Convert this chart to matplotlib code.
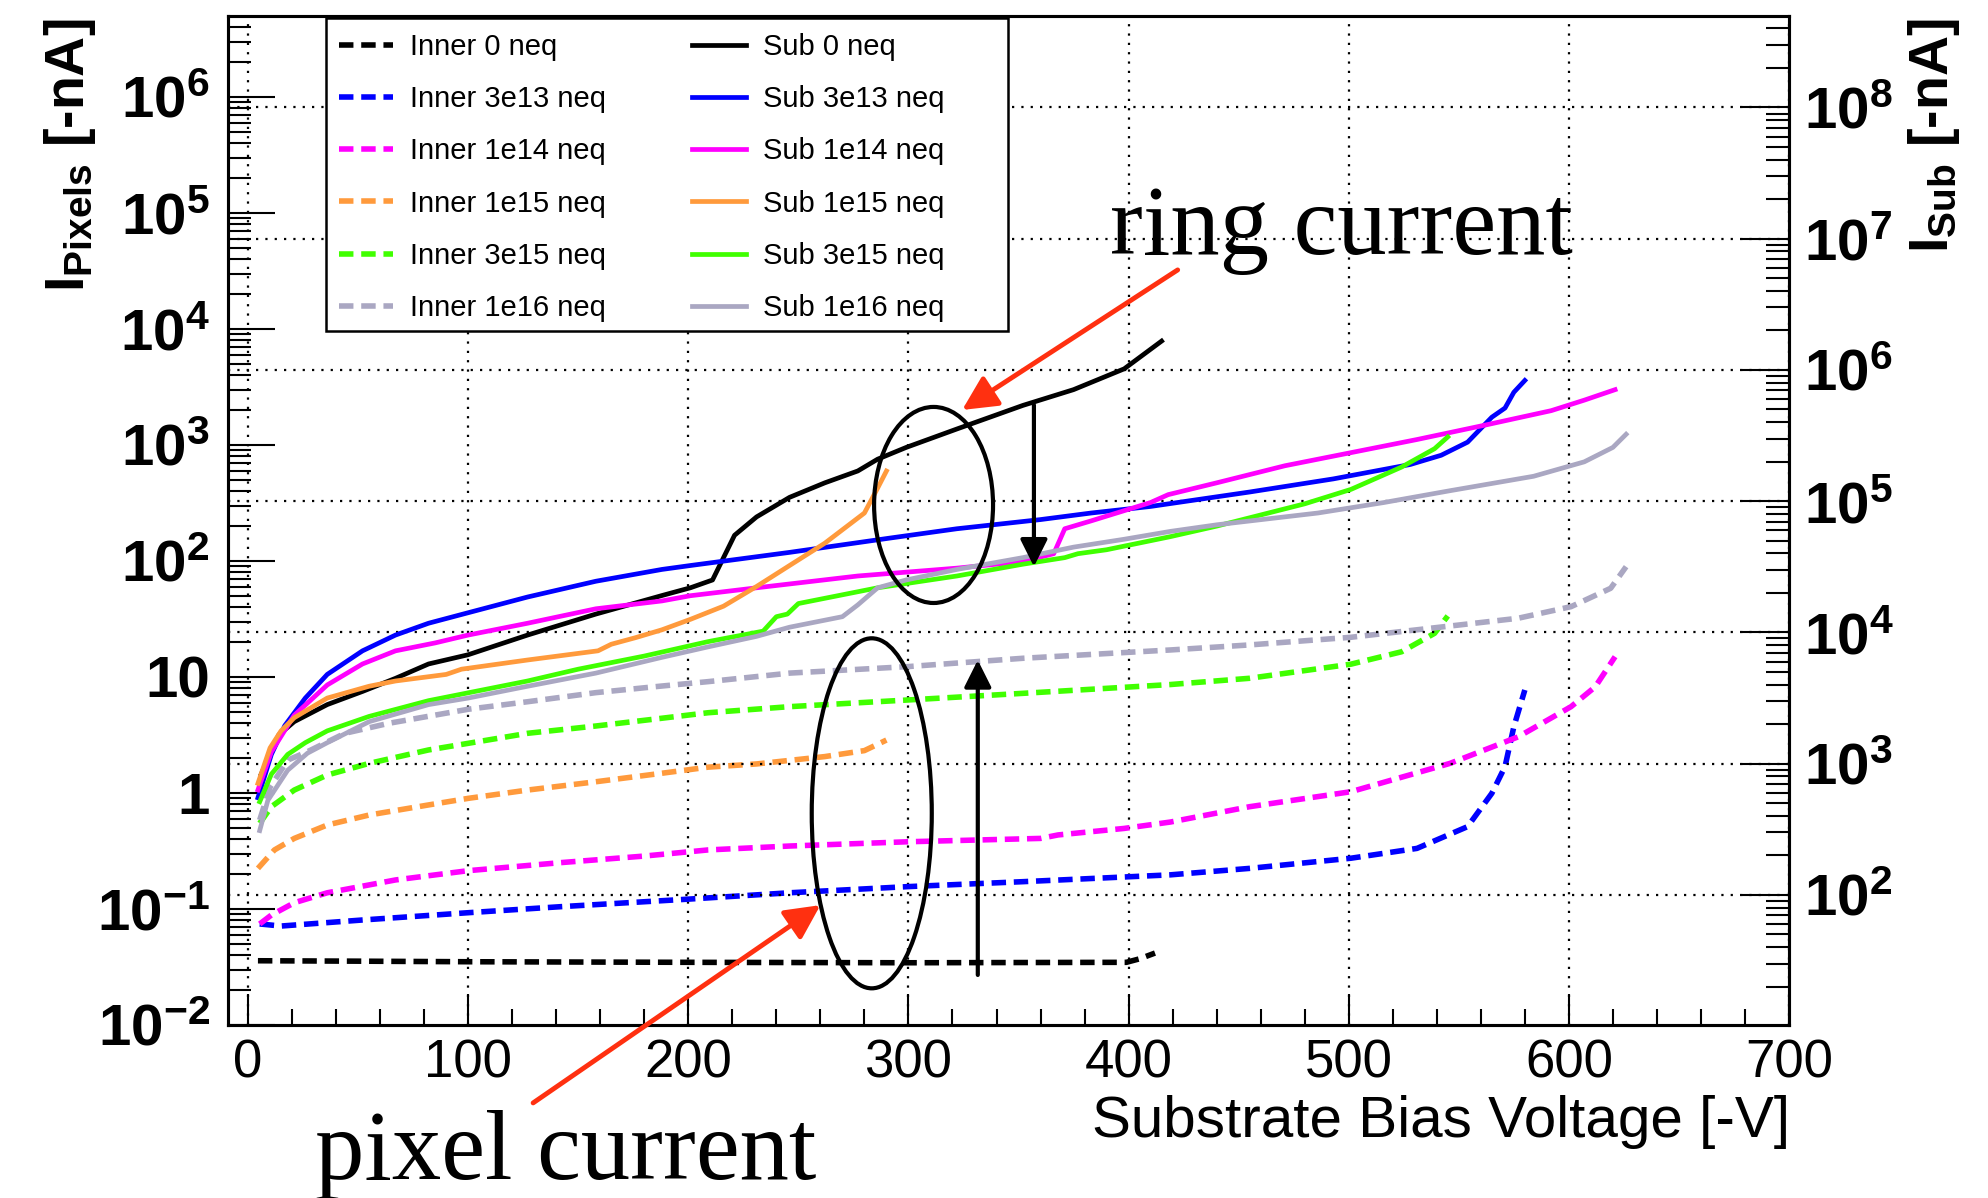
import numpy as np
import matplotlib
matplotlib.use('Agg')
from matplotlib import pyplot as plt
from matplotlib.ticker import LogLocator, MultipleLocator, NullFormatter
from matplotlib.patches import Ellipse, Rectangle

plt.rcParams['font.family'] = ['Liberation Sans', 'DejaVu Sans']
plt.rcParams['mathtext.fontset'] = 'custom'
plt.rcParams['mathtext.rm'] = 'Liberation Sans'
plt.rcParams['mathtext.bf'] = 'Liberation Sans:bold'
plt.rcParams['mathtext.it'] = 'Liberation Sans:italic'

# ---- data: pixel (inner) currents, left axis [-nA] ----
inner_labels = ['Inner 0 neq', 'Inner 3e13 neq', 'Inner 1e14 neq',
                'Inner 1e15 neq', 'Inner 3e15 neq', 'Inner 1e16 neq']

inner_0_v = [4.5, 50, 100, 200, 300, 399, 405, 412]
inner_0_i = [0.0358, 0.0355, 0.0351, 0.0347, 0.0344, 0.0347, 0.0372, 0.0417]

inner_3e13_v = [5.3, 15, 52, 100, 142, 200, 246, 300, 352, 419, 455, 501, 531, 554, 565, 571, 575, 580]
inner_3e13_i = [0.0743, 0.0713, 0.0804, 0.0929, 0.1047, 0.1216, 0.138, 0.156, 0.172, 0.197,
                0.224, 0.274, 0.333, 0.513, 0.993, 1.69, 3.72, 7.73]

inner_1e14_v = [5.3, 10.6, 21, 36, 67, 100, 142, 180, 209, 246, 300, 360, 368, 398, 419,
                455, 501, 546, 577, 601, 612, 621]
inner_1e14_i = [0.0743, 0.0887, 0.1132, 0.138, 0.178, 0.214, 0.251, 0.286, 0.323, 0.349,
                0.380, 0.406, 0.435, 0.495, 0.562, 0.762, 1.026, 1.80, 3.05, 5.55, 8.24, 14.96]

inner_1e15_v = [4.5, 12, 21, 36, 55, 82, 100, 127, 158, 188, 209, 231, 262, 280, 290]
inner_1e15_i = [0.224, 0.323, 0.406, 0.530, 0.646, 0.789, 0.899, 1.06, 1.25, 1.48, 1.67,
                1.78, 2.06, 2.32, 2.86]

inner_3e15_v = [5.3, 10.6, 21, 36, 55, 82, 100, 127, 158, 188, 209, 246, 300, 352, 419,
                455, 501, 524, 539, 545]
inner_3e15_i = [0.548, 0.762, 1.06, 1.43, 1.80, 2.35, 2.68, 3.27, 3.78, 4.41, 4.92, 5.55,
                6.34, 7.23, 8.61, 9.75, 12.9, 16.5, 23.8, 33.6]

inner_1e16_v = [5.3, 10, 18, 27, 44, 64, 100, 127, 158, 188, 209, 246, 300, 352, 419, 455,
                501, 546, 577, 601, 619, 626]
inner_1e16_i = [0.585, 1.12, 1.92, 2.27, 3.27, 3.99, 5.27, 6.12, 7.33, 8.36, 9.12, 10.8,
                12.3, 14.5, 17.1, 18.9, 22.0, 27.5, 32.1, 40.4, 58.2, 89.3]

# ---- data: substrate currents, right axis [-nA] ----
sub_labels = ['Sub 0 neq', 'Sub 3e13 neq', 'Sub 1e14 neq',
              'Sub 1e15 neq', 'Sub 3e15 neq', 'Sub 1e16 neq']

sub_0_v = [6, 14, 21, 36, 52, 67, 82, 100, 127, 158, 188, 201, 211, 221, 231, 246, 262,
           277, 286, 299, 322, 352, 375, 398, 415]
sub_0_i = [832, 1660, 2090, 2820, 3550, 4470, 5750, 6760, 9550, 13800, 19100, 21900, 25100,
           55000, 75900, 107000, 138000, 170000, 209000, 257000, 355000, 537000, 708000,
           1.02e6, 1.66e6]

sub_3e13_v = [4.5, 10.6, 16.7, 26, 36, 52, 67, 82, 100, 127, 158, 188, 201, 246, 292, 322,
              360, 383, 410, 455, 493, 528, 542, 554, 565, 571, 575, 580]
sub_3e13_i = [550, 1175, 1950, 3160, 4790, 7240, 9550, 11750, 14130, 18620, 24550, 30200,
              32360, 40740, 52480, 61660, 72440, 81280, 91200, 117500, 147900, 190500,
              223900, 281800, 436500, 512900, 676100, 831800]

sub_1e14_v = [4.5, 10.6, 21, 36, 52, 67, 85, 100, 127, 158, 188, 201, 231, 277, 322, 352,
              366, 371, 383, 410, 418, 440, 471, 501, 531, 562, 592, 607, 621]
sub_1e14_i = [631, 1230, 2340, 3980, 5750, 7240, 8320, 9550, 11750, 15140, 17380, 19050,
              21880, 26920, 30900, 34670, 39810, 61660, 70800, 97720, 112200, 138000,
              186200, 234400, 295100, 380200, 489800, 588800, 707900]

sub_1e15_v = [4.5, 10, 15, 21, 36, 55, 67, 90, 97, 127, 159, 165, 176, 188, 201, 216, 231,
              246, 262, 280, 286, 290]
sub_1e15_i = [708, 1318, 1778, 2239, 3162, 3890, 4266, 4786, 5248, 6166, 7244, 8128, 9120,
              10470, 12590, 15850, 22390, 32360, 47860, 81280, 125900, 169800]

sub_3e15_v = [5.3, 10.6, 18, 26, 36, 55, 82, 100, 127, 150, 180, 209, 234, 240, 245, 250,
              271, 286, 322, 352, 371, 377, 390, 419, 440, 480, 501, 524, 539, 545]
sub_3e15_i = [513, 832, 1175, 1445, 1778, 2291, 3020, 3467, 4266, 5248, 6607, 8511, 10230,
              13180, 13800, 16600, 19500, 21880, 26920, 33110, 37150, 39810, 42660, 53700,
              64570, 95500, 123000, 182000, 251200, 309000]

sub_1e16_v = [5.3, 9, 18, 27, 36, 55, 82, 100, 127, 158, 188, 209, 231, 246, 270, 277, 286,
              299, 322, 352, 375, 398, 419, 440, 486, 516, 546, 584, 607, 620, 626]
sub_1e16_i = [309, 525, 891, 1202, 1445, 2089, 2818, 3162, 3890, 4898, 6457, 7762, 9333,
              10960, 13180, 16220, 21880, 25120, 30200, 37150, 44670, 51290, 58880, 66070,
              81280, 97720, 120200, 154900, 199500, 257000, 323600]

colors = ['black', '#0000ff', '#ff00ff', '#ff9a3c', '#40ff00', '#aaa7c2']

inner_v = [inner_0_v, inner_3e13_v, inner_1e14_v, inner_1e15_v, inner_3e15_v, inner_1e16_v]
inner_i = [inner_0_i, inner_3e13_i, inner_1e14_i, inner_1e15_i, inner_3e15_i, inner_1e16_i]
sub_v = [sub_0_v, sub_3e13_v, sub_1e14_v, sub_1e15_v, sub_3e15_v, sub_1e16_v]
sub_i = [sub_0_i, sub_3e13_i, sub_1e14_i, sub_1e15_i, sub_3e15_i, sub_1e16_i]

left_ticks = [1e-2, 1e-1, 1, 10, 1e2, 1e3, 1e4, 1e5, 1e6]
left_ticklabels = [r'$\mathbf{10^{-2}}$', r'$\mathbf{10^{-1}}$', '1', '10', r'$\mathbf{10^{2}}$',
                   r'$\mathbf{10^{3}}$', r'$\mathbf{10^{4}}$', r'$\mathbf{10^{5}}$', r'$\mathbf{10^{6}}$']
right_ticks = [1e2, 1e3, 1e4, 1e5, 1e6, 1e7, 1e8]
right_ticklabels = [r'$\mathbf{10^{%d}}$' % k for k in range(2, 9)]

W, H = 1988, 1198
fig = plt.figure(figsize=(W / 100, H / 100), dpi=100)
ax = fig.add_axes([228 / W, 1 - 1025 / H, 1561 / W, 1009 / H])
ax2 = ax.twinx()

dash = (0, (2.6, 1.4))
inner_handles = []
for v, i, c, lab in zip(inner_v, inner_i, colors, inner_labels):
    h, = ax.plot(v, i, color=c, lw=4, ls=dash, label=lab)
    inner_handles.append(h)
sub_handles = []
for v, i, c, lab in zip(sub_v, sub_i, colors, sub_labels):
    h, = ax2.plot(v, i, color=c, lw=3.4, ls='-', label=lab)
    sub_handles.append(h)

ax.set_xlim(-9.1, 700)
ax.set_yscale('log')
ax.set_ylim(1e-2, 4.99e6)
ax2.set_yscale('log')
ax2.set_ylim(10.2, 4.98e8)

ax.set_xticks(np.arange(0, 701, 100))
ax.xaxis.set_minor_locator(MultipleLocator(20))
ax.set_yticks(left_ticks, left_ticklabels, fontweight='bold')
ax.yaxis.set_minor_locator(LogLocator(base=10, subs=np.arange(2, 10), numticks=30))
ax.yaxis.set_minor_formatter(NullFormatter())
ax2.set_yticks(right_ticks, right_ticklabels, fontweight='bold')
ax2.yaxis.set_minor_locator(LogLocator(base=10, subs=np.arange(2, 10), numticks=30))
ax2.yaxis.set_minor_formatter(NullFormatter())

ax.tick_params(axis='x', which='major', direction='in', length=22, width=1.5,
               labelsize=38, pad=10, top=False)
ax.tick_params(axis='x', which='minor', direction='in', length=11.5, width=1.5, top=False)
ax.tick_params(axis='y', which='major', direction='in', length=34, width=1.5,
               labelsize=42, pad=13, right=False)
ax.tick_params(axis='y', which='minor', direction='in', length=16.5, width=1.5, right=False)
ax2.tick_params(axis='y', which='major', direction='in', length=34, width=1.5,
                labelsize=42, pad=11, left=False)
ax2.tick_params(axis='y', which='minor', direction='in', length=16.5, width=1.5, left=False)

grid_style = dict(color='black', lw=1.6, ls=(0, (1, 3.2)))
ax.grid(axis='x', which='major', **grid_style)
ax2.grid(axis='y', which='major', **grid_style)
for a in (ax, ax2):
    for s in a.spines.values():
        s.set_linewidth(2.2)

# axis titles
fig.text(1790 / W, 1 - 1137 / H, 'Substrate Bias Voltage [-V]', fontsize=42,
         ha='right', va='baseline')
fig.text(70 / W, 1 - 19 / H, r'$\mathbf{I_{Pixels}}$ [-nA]', rotation=90, fontsize=40,
         fontweight='bold', ha='center', va='top')
fig.text(1934 / W, 1 - 19 / H, r'$\mathbf{I_{Sub}}$ [-nA]', rotation=90, fontsize=40,
         fontweight='bold', ha='center', va='top')

# legend
fig.add_artist(Rectangle((326 / W, 1 - 331 / H), 682 / W, 313 / H, transform=fig.transFigure,
                         facecolor='white', edgecolor='black', lw=1.8, zorder=4))
fig.legend(inner_handles + sub_handles, inner_labels + sub_labels, ncol=2, loc='upper left',
           bbox_to_anchor=(339 / W, 1 - 33 / H), frameon=False, fontsize=21,
           handlelength=1.85, handletextpad=0.58, columnspacing=2.95, labelspacing=0.83,
           borderpad=0, borderaxespad=0)

# annotations
ax2.add_patch(Ellipse((0.452, 0.5154), 0.0762, 0.1943, transform=ax2.transAxes,
                      fill=False, ec='black', lw=3, zorder=6))
ax2.add_patch(Ellipse((0.4124, 0.2098), 0.0769, 0.3469, transform=ax2.transAxes,
                      fill=False, ec='black', lw=3, zorder=6))
black_head = dict(arrowstyle='-|>,head_length=0.5,head_width=0.25', mutation_scale=33,
                  lw=3, color='black', shrinkA=0, shrinkB=0)
red_head = dict(arrowstyle='-|>,head_length=0.6,head_width=0.3', mutation_scale=35,
                lw=3.5, color='#ff3010', shrinkA=0, shrinkB=0)
ax2.annotate('', xy=(357, 89.4), xytext=(357, 2213), xycoords=ax.transData,
             textcoords=ax.transData, arrowprops=black_head, annotation_clip=False)
ax2.annotate('', xy=(331.5, 14.0), xytext=(331.5, 0.027), xycoords=ax.transData,
             textcoords=ax.transData, arrowprops=black_head, annotation_clip=False)
ax2.annotate('', xy=(324.4, 2004), xytext=(422.3, 32300), xycoords=ax.transData,
             textcoords=ax.transData, arrowprops=red_head, annotation_clip=False)
ax2.annotate('', xy=(260, 0.108), xytext=(129.5, 0.00213), xycoords=ax.transData,
             textcoords=ax.transData, arrowprops=red_head, annotation_clip=False)

fig.text(1110 / W, 1 - 254 / H, 'ring current', family='Liberation Serif', fontsize=71,
         ha='left', va='baseline')
fig.text(315 / W, 1 - 1179 / H, 'pixel current', family='Liberation Serif', fontsize=71,
         ha='left', va='baseline')

fig.savefig('out.png', dpi=100)
